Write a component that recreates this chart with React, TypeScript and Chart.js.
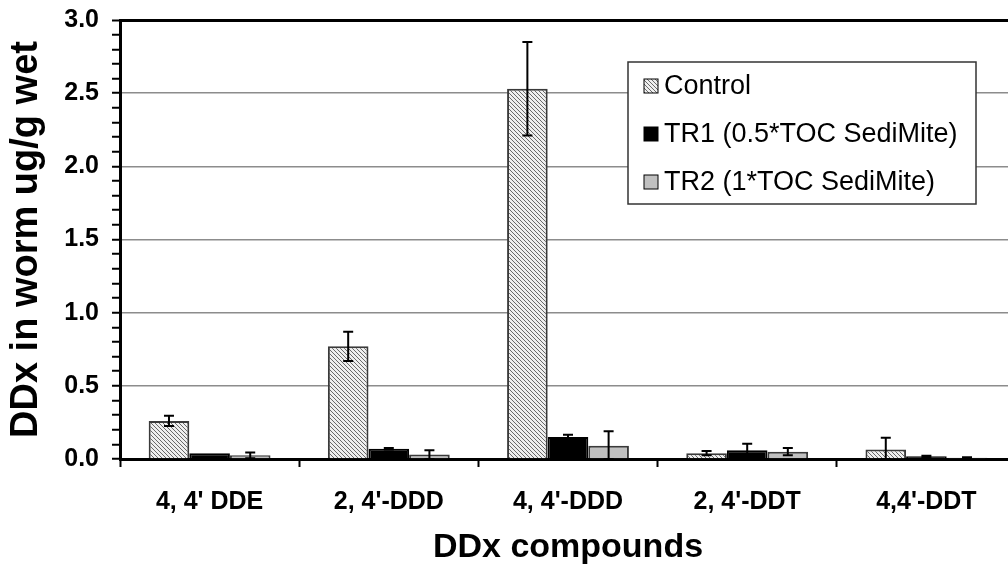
import React, { useEffect, useRef } from "react";
import { Chart, registerables } from "chart.js";

Chart.register(...registerables);

const categories = ["4, 4' DDE", "2, 4'-DDD", "4, 4'-DDD", "2, 4'-DDT", "4,4'-DDT"];
const seriesLabels = ["Control", "TR1 (0.5*TOC SediMite)", "TR2 (1*TOC SediMite)"];
const controlValues = [0.26, 0.77, 2.53, 0.04, 0.065];
const controlErrors = [0.035, 0.1, 0.32, 0.015, 0.08];
const tr1Values = [0.04, 0.07, 0.15, 0.06, 0.018];
const tr1Errors = [0.0, 0.005, 0.015, 0.045, 0.005];
const tr2Values = [0.025, 0.03, 0.09, 0.05, 0.008];
const tr2Errors = [0.02, 0.03, 0.1, 0.025, 0.004];
const yTickMin = 0;
const yTickMax = 3;

const errorSets = [controlErrors, tr1Errors, tr2Errors];
const FONT = "'Liberation Sans', Arial, sans-serif";

function makeHatch(): CanvasPattern | string {
  const c = document.createElement("canvas");
  const s = 4;
  c.width = s;
  c.height = s;
  const g = c.getContext("2d");
  if (!g) return "#ccc";
  g.fillStyle = "#efefef";
  g.fillRect(0, 0, s, s);
  g.strokeStyle = "#6a6a6a";
  g.lineWidth = 1;
  g.beginPath();
  g.moveTo(-1, -1);
  g.lineTo(s + 1, s + 1);
  g.moveTo(-1, s - 1);
  g.lineTo(1, s + 1);
  g.moveTo(s - 1, -1);
  g.lineTo(s + 1, 1);
  g.stroke();
  const p = g.createPattern(c, "repeat");
  return p || "#ccc";
}

const errorBarPlugin = {
  id: "errorBars",
  afterDatasetsDraw(chart: any) {
    const ctx = chart.ctx;
    const y = chart.scales.y;
    ctx.save();
    ctx.strokeStyle = "#000";
    ctx.lineWidth = 2;
    chart.data.datasets.forEach((ds: any, di: number) => {
      const meta = chart.getDatasetMeta(di);
      const errs = errorSets[di];
      meta.data.forEach((bar: any, i: number) => {
        const v = ds.data[i];
        const e = errs[i];
        if (!e) return;
        const top = y.getPixelForValue(v + e);
        const bot = y.getPixelForValue(Math.max(0, v - e));
        const x = bar.x;
        ctx.beginPath();
        ctx.moveTo(x, top);
        ctx.lineTo(x, bot);
        ctx.moveTo(x - 5, top);
        ctx.lineTo(x + 5, top);
        ctx.moveTo(x - 5, bot);
        ctx.lineTo(x + 5, bot);
        ctx.stroke();
      });
    });
    ctx.restore();
  },
};

const legendPlugin = {
  id: "boxLegend",
  afterDraw(chart: any) {
    const ctx = chart.ctx;
    const bx = 628, by = 62, bw = 348, bh = 142;
    ctx.save();
    ctx.fillStyle = "#fff";
    ctx.fillRect(bx, by, bw, bh);
    ctx.strokeStyle = "#333";
    ctx.lineWidth = 1.5;
    ctx.strokeRect(bx, by, bw, bh);
    ctx.font = "27px " + FONT;
    ctx.textBaseline = "middle";
    chart.data.datasets.forEach((ds: any, i: number) => {
      const cy = 86 + i * 48;
      ctx.fillStyle = ds.backgroundColor;
      ctx.fillRect(644, cy - 7, 14, 14);
      ctx.strokeStyle = "#000";
      ctx.lineWidth = 1;
      ctx.strokeRect(644, cy - 7, 14, 14);
      ctx.fillStyle = "#000";
      ctx.fillText(ds.label, 664, cy + 1);
    });
    ctx.restore();
  },
};

export default function App() {
  const ref = useRef<HTMLCanvasElement | null>(null);
  useEffect(() => {
    if (!ref.current) return;
    const hatch = makeHatch();
    const chart = new Chart(ref.current, {
      type: "bar",
      data: {
        labels: categories,
        datasets: [
          {
            label: seriesLabels[0],
            data: controlValues,
            backgroundColor: hatch as any,
            borderColor: "#3a3a3a",
            borderWidth: 2,
            barPercentage: 1,
            categoryPercentage: 0.68,
          },
          {
            label: seriesLabels[1],
            data: tr1Values,
            backgroundColor: "#000000",
            borderColor: "#000000",
            borderWidth: 2,
            barPercentage: 1,
            categoryPercentage: 0.68,
          },
          {
            label: seriesLabels[2],
            data: tr2Values,
            backgroundColor: "#c0c0c0",
            borderColor: "#3a3a3a",
            borderWidth: 2,
            barPercentage: 1,
            categoryPercentage: 0.68,
          },
        ],
      },
      options: {
        animation: false,
        responsive: false,
        maintainAspectRatio: false,
        layout: { padding: { top: 20, right: 2, left: 0, bottom: 0 } },
        plugins: {
          legend: { display: false },
          tooltip: { enabled: false },
        },
        scales: {
          x: {
            afterFit: (s: any) => {
              s.height = 114;
              s.paddingLeft = 0;
              s.paddingRight = 0;
            },
            grid: {
              display: true,
              drawOnChartArea: false,
              drawTicks: true,
              tickLength: 8,
              tickColor: "#000",
              tickWidth: 2,
            },
            border: { display: true, color: "#000", width: 3 },
            ticks: {
              color: "#000",
              padding: 20,
              font: { family: FONT, size: 25, weight: "bold" },
              maxRotation: 0,
            },
            title: {
              display: true,
              text: "DDx compounds",
              color: "#000",
              font: { family: FONT, size: 34, weight: "bold" },
              padding: { top: 0, bottom: 5 },
            },
          },
          y: {
            min: yTickMin,
            max: yTickMax,
            afterFit: (s: any) => {
              s.width = 120;
              s.paddingTop = 0;
              s.paddingBottom = 0;
            },
            grid: {
              display: true,
              drawOnChartArea: true,
              drawTicks: true,
              tickLength: 8,
              tickColor: "#000",
              tickWidth: 2,
              color: (c: any) => {
                const v = c.tick ? c.tick.value : 0;
                if (Math.abs(v - yTickMax) < 1e-6) return "#000";
                if (Math.abs(v) < 1e-6) return "rgba(0,0,0,0)";
                return Math.abs(v * 2 - Math.round(v * 2)) < 1e-6 ? "#8c8c8c" : "rgba(0,0,0,0)";
              },
              lineWidth: (c: any) => {
                const v = c.tick ? c.tick.value : 0;
                return Math.abs(v - yTickMax) < 1e-6 ? 3 : 1.5;
              },
            },
            border: { display: true, color: "#000", width: 3 },
            ticks: {
              stepSize: 0.1,
              autoSkip: false,
              color: "#000",
              padding: 13,
              font: { family: FONT, size: 25, weight: "bold" },
              callback: (v: any) => {
                const n = Number(v);
                return Math.abs(n * 2 - Math.round(n * 2)) < 1e-6 ? n.toFixed(1) : "";
              },
            },
            title: {
              display: true,
              text: "DDx in worm ug/g wet",
              color: "#000",
              font: { family: FONT, size: 38, weight: "bold" },
              padding: { top: 4, bottom: 0 },
            },
          },
        },
      },
      plugins: [errorBarPlugin, legendPlugin],
    });
    return () => chart.destroy();
  }, []);
  return (
    <div style={{ position: "fixed", left: 0, top: 0, width: 1008, height: 573, overflow: "hidden", background: "#fff" }}>
      <canvas ref={ref} width={1018} height={573} style={{ width: 1018, height: 573, display: "block" }} />
    </div>
  );
}
